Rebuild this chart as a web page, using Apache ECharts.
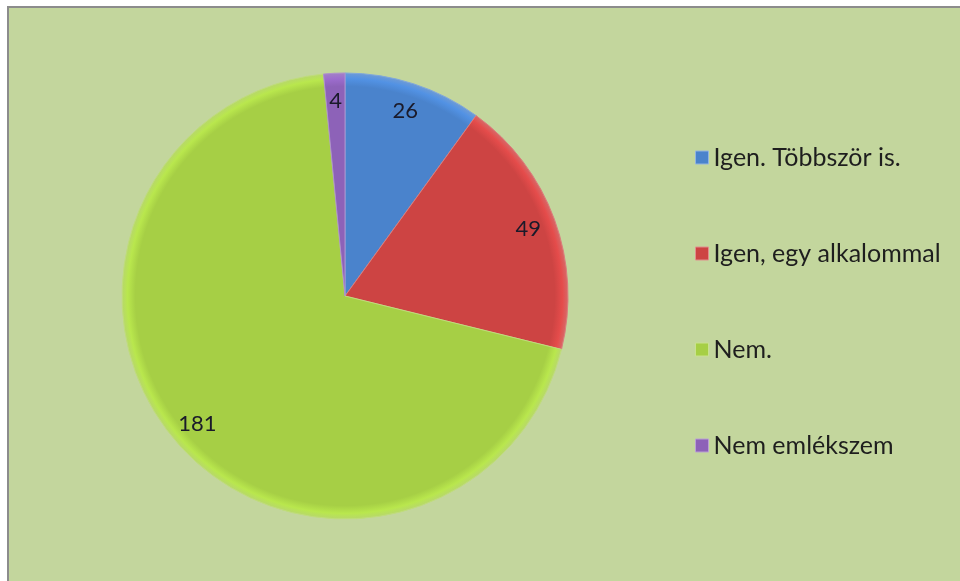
<!DOCTYPE html>
<html lang="hu">
<head>
  <meta charset="UTF-8">
  <title>Pie</title>
  <script src="https://cdn.jsdelivr.net/npm/echarts@6/dist/echarts.min.js"></script>
  <style>
    html, body { margin: 0; padding: 0; background: #fff; }
    #chart { width: 960px; height: 581px; }
  </style>
</head>
<body>
  <div id="chart"></div>
<script>
  const categories = ['Igen. Többször is.', 'Igen, egy alkalommal', 'Nem.', 'Nem emlékszem'];
  const values = [26, 49, 181, 4];
  const colors = ['#4a83cc', '#cd4443', '#a6cf45', '#8d62b8'];

  const cx = 345, cy = 296, r = 223;

  // bevel-ish rim: flat fill, thin lighter ring at the edge
  function shade(c) {
    return {
      type: 'radial', x: cx, y: cy, r: r, global: true,
      colorStops: [
        { offset: 0, color: c },
        { offset: 0.94, color: c },
        { offset: 0.975, color: echarts.color.lift(c, -0.12) },
        { offset: 1, color: echarts.color.lift(c, 0.2) }
      ]
    };
  }

  const data = categories.map((name, i) => ({
    name: name,
    value: values[i],
    itemStyle: { color: shade(colors[i]), borderColor: echarts.color.lift(colors[i], 0.3), borderWidth: 1 }
  }));

  const chart = echarts.init(document.getElementById('chart'));
  chart.setOption({
    backgroundColor: '#fff',
    animation: false,
    color: colors,
    textStyle: { fontFamily: 'Lato' },
    graphic: [{
      type: 'rect', z: -10, silent: true,
      shape: { x: 8, y: 7, width: 960, height: 582 },
      style: { fill: '#c3d69d', stroke: '#8c8c8c', lineWidth: 2 }
    }],
    legend: {
      orient: 'vertical',
      left: 690,
      top: 140,
      itemWidth: 13,
      itemHeight: 13,
      itemGap: 71,
      icon: 'rect',
      textStyle: { fontSize: 25, color: '#1e1e1e', fontFamily: 'Lato' },
      data: categories.map((name, i) => ({
        name: name,
        itemStyle: { color: colors[i], borderColor: echarts.color.lift(colors[i], 0.4), borderWidth: 1 }
      }))
    },
    series: [
      {
        type: 'pie',
        center: [cx, cy],
        radius: [0, r],
        startAngle: 90,
        clockwise: true,
        label: { show: false },
        labelLine: { show: false },
        emphasis: { disabled: true },
        data: data
      },
      {
        type: 'pie',
        center: [cx, cy],
        radius: [160, 224],
        startAngle: 90,
        clockwise: true,
        silent: true,
        itemStyle: { color: 'rgba(0,0,0,0)' },
        label: { show: true, position: 'inside', formatter: '{c}', fontSize: 22, color: '#1a1a2a', fontFamily: 'Lato' },
        labelLine: { show: false },
        emphasis: { disabled: true },
        legendHoverLink: false,
        data: categories.map((name, i) => ({ name: name, value: values[i] }))
      }
    ]
  });
</script>
</body>
</html>
